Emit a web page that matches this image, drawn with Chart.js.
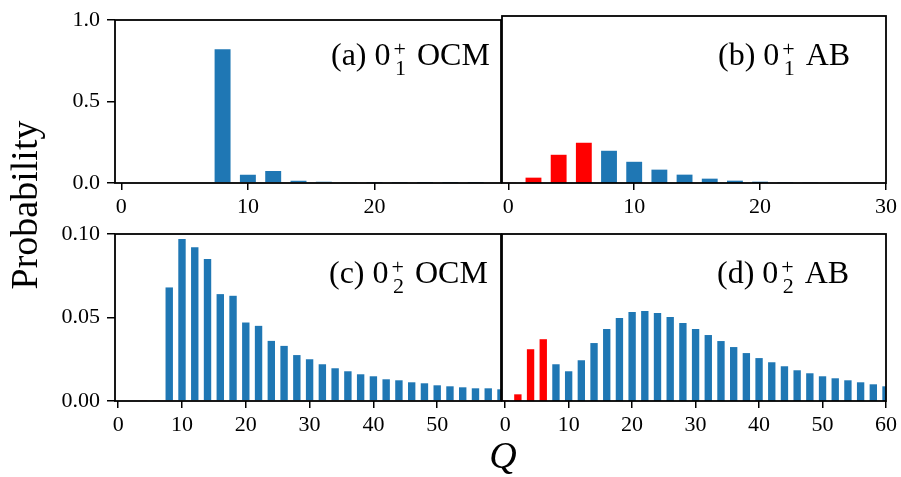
<!DOCTYPE html>
<html>
<head>
<meta charset="utf-8">
<script src="https://cdn.jsdelivr.net/npm/chart.js@4.4.1/dist/chart.umd.min.js"></script>
<style>
  html, body { margin: 0; padding: 0; background: #fff; }
  #wrap { position: relative; width: 901px; height: 477px; }
  #wrap canvas { position: absolute; left: 0; top: 0; }
</style>
</head>
<body>
<div id="wrap">
  <canvas id="pa" width="901" height="477"></canvas>
  <canvas id="pb" width="901" height="477"></canvas>
  <canvas id="pc" width="901" height="477"></canvas>
  <canvas id="pd" width="901" height="477"></canvas>
</div>
<script>
const SERIF = '"Liberation Serif", "Times New Roman", serif';
const BLUE = '#1f77b4';
const RED = '#ff0000';

// Q values (even numbers only)
const qRed = [0, 2, 4, 6];
const qBlueTop = [8, 10, 12, 14, 16, 18, 20, 22, 24, 26, 28];
const qBlueBottom = [8, 10, 12, 14, 16, 18, 20, 22, 24, 26, 28, 30, 32, 34, 36, 38, 40,
                     42, 44, 46, 48, 50, 52, 54, 56, 58, 60];

// (a) 0_1^+ OCM
const aRed = [0, 0, 0, 0];
const aBlue = [0.821, 0.05, 0.074, 0.014, 0.008, 0.003, 0.002, 0.001, 0.0005, 0.0003, 0.0002];
// (b) 0_1^+ AB
const bRed = [0.001, 0.032, 0.169, 0.241];
const bBlue = [0.193, 0.127, 0.08, 0.05, 0.026, 0.014, 0.008, 0.003, 0.002, 0.001, 0.001];
// (c) 0_2^+ OCM
const cRed = [0, 0, 0.0003, 0.0003];
const cBlue = [0.068, 0.097, 0.092, 0.085, 0.064, 0.063, 0.047, 0.045, 0.036, 0.033, 0.0275,
               0.025, 0.022, 0.0196, 0.0178, 0.016, 0.0148, 0.013, 0.0124, 0.0112, 0.0106,
               0.0094, 0.0088, 0.0082, 0.0076, 0.0076, 0.007];
// (d) 0_2^+ AB
const dRed = [0.0003, 0.004, 0.031, 0.037];
const dBlue = [0.022, 0.0178, 0.0244, 0.0347, 0.0431, 0.0497, 0.0533, 0.0539, 0.0527, 0.0503,
               0.0467, 0.0431, 0.0395, 0.0359, 0.0323, 0.0287, 0.0257, 0.0232, 0.0208, 0.0184,
               0.0166, 0.0148, 0.0136, 0.0124, 0.0112, 0.010, 0.0088];

function pts(qs, ps) {
  return qs.map((q, i) => ({ x: q, y: ps[i] }));
}

function drawLabel(ctx, o) {
  ctx.save();
  ctx.fillStyle = '#000';
  ctx.textAlign = 'left';
  ctx.textBaseline = 'alphabetic';
  ctx.font = '32px ' + SERIF;
  let x = o.x;
  ctx.fillText(o.head, x, o.y);
  x += ctx.measureText(o.head).width + 3;
  ctx.font = '22px ' + SERIF;
  ctx.fillText('+', x, o.y - 9);
  ctx.fillText(o.sub, x + 1.5, o.y + 10);
  x += ctx.measureText('+').width + 3;
  ctx.font = '32px ' + SERIF;
  ctx.fillText(' ' + o.tail, x, o.y);
  ctx.restore();
}

const panelPlugin = {
  id: 'panel',
  afterDatasetsDraw(chart, args, opts) {
    const a = chart.chartArea;
    const ctx = chart.ctx;
    ctx.save();
    ctx.strokeStyle = '#000';
    ctx.lineWidth = 1.8;
    ctx.strokeRect(Math.round(a.left), Math.round(a.top),
                   Math.round(a.right) - Math.round(a.left), Math.round(a.bottom) - Math.round(a.top));
    ctx.restore();
    drawLabel(ctx, opts);
    if (opts.axisTitles) {
      ctx.save();
      ctx.fillStyle = '#000';
      ctx.font = '38px ' + SERIF;
      ctx.textAlign = 'center';
      ctx.textBaseline = 'alphabetic';
      ctx.translate(37, 205);
      ctx.rotate(-Math.PI / 2);
      ctx.fillText('Probability', 0, 0);
      ctx.restore();
      ctx.save();
      ctx.fillStyle = '#000';
      ctx.font = 'italic 38px ' + SERIF;
      ctx.textAlign = 'center';
      ctx.textBaseline = 'alphabetic';
      ctx.fillText('Q', 503, 468);
      ctx.restore();
    }
  }
};

function makePanel(id, c) {
  const tickFont = { family: SERIF, size: 22 };
  const yScale = c.showY ? {
    min: 0, max: c.ymax,
    grid: { drawOnChartArea: false, color: '#000', lineWidth: 1.5, tickLength: 8 },
    border: { display: false },
    ticks: { stepSize: c.ystep, padding: 7, color: '#000', font: tickFont,
             callback: v => v.toFixed(c.dec) },
    afterFit: s => { s.width = 115; }
  } : { display: false, min: 0, max: c.ymax };

  return new Chart(document.getElementById(id), {
    type: 'bar',
    data: {
      datasets: [
        { data: pts(qRed, c.red), backgroundColor: RED, grouped: false,
          categoryPercentage: 1, barPercentage: c.bar },
        { data: pts(c.qBlue, c.blue), backgroundColor: BLUE, grouped: false,
          categoryPercentage: 1, barPercentage: c.bar }
      ]
    },
    options: {
      responsive: false,
      animation: false,
      devicePixelRatio: 1,
      layout: { padding: c.pad },
      plugins: {
        legend: { display: false },
        tooltip: { enabled: false },
        panel: c.label
      },
      scales: {
        x: {
          type: 'linear', min: -0.5, max: c.xmax, offset: false,
          grid: { offset: false, drawOnChartArea: false, color: '#000', lineWidth: 1.5, tickLength: 7 },
          border: { display: false },
          ticks: { stepSize: 10, includeBounds: false, padding: 4, color: '#000', font: tickFont,
                   maxRotation: 0, autoSkip: false, callback: v => String(v) },
          afterBuildTicks: s => { s.ticks = s.ticks.filter(t => t.value <= c.tickMax); },
          afterFit: s => { s.height = 40; }
        },
        y: yScale
      }
    },
    plugins: [panelPlugin]
  });
}

makePanel('pa', {
  red: aRed, qBlue: qBlueTop, blue: aBlue, bar: 0.63,
  xmax: 30, tickMax: 25, ymax: 1, ystep: 0.5, dec: 1, showY: true,
  pad: { left: 0, right: 400, top: 16, bottom: 477 - 183 - 40 },
  label: { x: 331, y: 64.5, head: '(a) 0', sub: '1', tail: 'OCM' }
});
makePanel('pb', {
  red: bRed, qBlue: qBlueTop, blue: bBlue, bar: 0.63,
  xmax: 30, tickMax: 30, ymax: 1, showY: false,
  pad: { left: 502, right: 13, top: 16, bottom: 477 - 183 - 40 },
  label: { x: 718, y: 64.5, head: '(b) 0', sub: '1', tail: 'AB' }
});
makePanel('pc', {
  red: cRed, qBlue: qBlueBottom, blue: cBlue, bar: 0.58,
  xmax: 60, tickMax: 55, ymax: 0.1, ystep: 0.05, dec: 2, showY: true,
  pad: { left: 0, right: 400, top: 234, bottom: 477 - 401 - 40 },
  label: { x: 329, y: 283, head: '(c) 0', sub: '2', tail: 'OCM', axisTitles: true }
});
makePanel('pd', {
  red: dRed, qBlue: qBlueBottom, blue: dBlue, bar: 0.58,
  xmax: 60, tickMax: 60, ymax: 0.1, showY: false,
  pad: { left: 502, right: 13, top: 234, bottom: 477 - 401 - 40 },
  label: { x: 717, y: 283, head: '(d) 0', sub: '2', tail: 'AB' }
});
</script>
</body>
</html>
